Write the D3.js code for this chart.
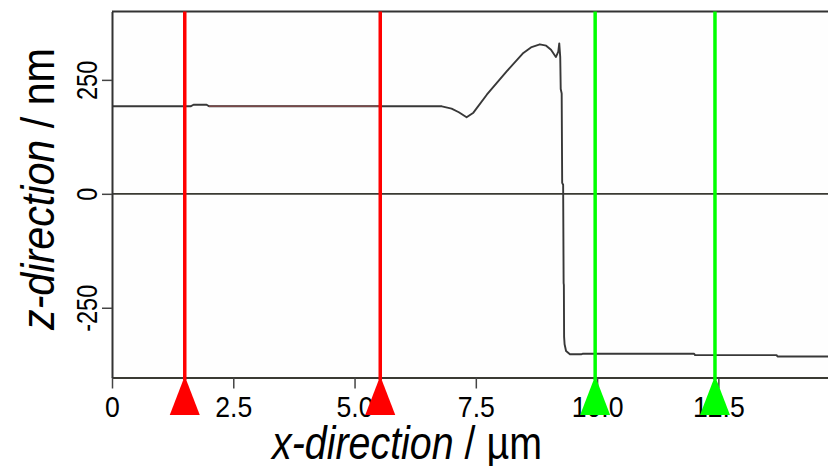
<!DOCTYPE html>
<meta charset="utf-8" />
<title>Height profile, x-direction vs z-direction</title>
<script src="https://d3js.org/d3.v7.min.js"></script>
<style>
  body { margin: 0; background: #fff; }
  svg text { font-family: "Liberation Sans", Arial, sans-serif; fill: #000; }
</style>

<div id="chart"></div>

<script> // profile line with two pairs of cursors

  // Tick values and labels
  var xTicks      = [0, 2.5, 5, 7.5, 10, 12.5];
  var xTickLabels = ["0", "2.5", "5.0", "7.5", "10.0", "12.5"];
  var zTicks      = [-250, 0, 250];
  var zTickLabels = ["-250", "0", "250"];

  var profileX = [0, 1.62, 1.68, 1.95, 2.0, 6.8, 7.0, 7.15, 7.31, 7.45, 7.73,
                  8.14, 8.48, 8.65, 8.82, 8.95, 9.05, 9.15, 9.2, 9.22, 9.24,
                  9.25, 9.27, 9.28, 9.3, 9.31, 9.315, 9.32, 9.33, 9.36, 9.44,
                  9.68, 9.7, 12.0, 12.02, 13.7, 13.72, 14.8];
  var profileZ = [192, 192, 195.5, 195.5, 192, 192, 187, 179, 168, 178, 218,
                  269, 309, 322, 328, 325, 316, 300, 312, 330, 300,
                  230, 220, 24, 20, -196, -200, -314, -330, -345, -352,
                  -352, -351, -351, -354, -354, -357, -357];

  // Cursor positions (um)
  var redCursors   = [1.5, 5.53];
  var greenCursors = [9.96, 12.43];

  var width  = 828;
  var height = 466;
  var xDomain = [0, 14.76];
  var zDomain = [-403, 400];

  var svg = d3.select("#chart")
    .append("svg")
    .attr("width", width)
    .attr("height", height);

  var x = d3.scaleLinear().domain(xDomain).range([112, 828]);
  var z = d3.scaleLinear().domain(zDomain).range([377.5, 11.5]);

  // plot background (almost white)
  svg.append("rect")
    .attr("x", x(xDomain[0])).attr("y", z(zDomain[1]))
    .attr("width", x(xDomain[1]) - x(xDomain[0]))
    .attr("height", z(zDomain[0]) - z(zDomain[1]))
    .attr("fill", "#fefefe");

  // top frame line and zero line
  svg.append("line")
    .attr("x1", x(xDomain[0])).attr("x2", x(xDomain[1]))
    .attr("y1", z(zDomain[1])).attr("y2", z(zDomain[1]))
    .attr("stroke", "#333").attr("stroke-width", 2);
  svg.append("line")
    .attr("x1", x(xDomain[0])).attr("x2", x(xDomain[1]))
    .attr("y1", z(0)).attr("y2", z(0))
    .attr("stroke", "#3a3a33").attr("stroke-width", 1.7);

  // the profile
  var pts = profileX.map(function(d, i) { return [d, profileZ[i]]; });
  var line = d3.line()
    .x(function(d) { return x(d[0]); })
    .y(function(d) { return z(d[1]); });

  svg.append("path")
    .datum(pts)
    .attr("d", line)
    .attr("fill", "none")
    .attr("stroke", "#383838")
    .attr("stroke-width", 1.9)
    .attr("stroke-linejoin", "round");

  // slightly tinted segment between the red cursors
  svg.append("path")
    .datum(pts.filter(function(d) { return d[0] >= 2.0 && d[0] <= redCursors[1]; })
              .concat([[redCursors[1], 192]]))
    .attr("d", line)
    .attr("fill", "none")
    .attr("stroke", "#7a4848")
    .attr("stroke-width", 1.4);

  // axes
  var xAxis = d3.axisBottom(x)
    .tickValues(xTicks)
    .tickFormat(function(d, i) { return xTickLabels[i]; })
    .tickSize(11)
    .tickSizeOuter(0);

  var gx = svg.append("g")
    .attr("transform", "translate(0," + z(zDomain[0]) + ")")
    .call(xAxis);
  gx.select(".domain").attr("stroke", "#3a3a33").attr("stroke-width", 2);
  gx.selectAll(".tick line").attr("stroke", "#444").attr("stroke-width", 1.5);
  gx.selectAll(".tick text")
    .attr("y", 38)
    .attr("dy", 0)
    .attr("transform", "scale(0.95,1.05)")
    .style("font-size", "28px");

  var zAxis = d3.axisLeft(z)
    .tickValues(zTicks)
    .tickFormat(function(d, i) { return zTickLabels[i]; })
    .tickSize(10)
    .tickSizeOuter(0);

  var gz = svg.append("g")
    .attr("transform", "translate(" + x(xDomain[0]) + ",0)")
    .call(zAxis);
  gz.select(".domain").attr("stroke", "#333").attr("stroke-width", 2);
  gz.selectAll(".tick line").attr("stroke", "#444").attr("stroke-width", 1.5);
  gz.selectAll(".tick text")
    .attr("x", 0).attr("y", 0).attr("dy", 0)
    .attr("text-anchor", "middle")
    .attr("transform", "translate(-15,0) rotate(-90) scale(0.84,1.03)")
    .style("font-size", "28px");

  // cursors: vertical lines with triangles at the bottom
  function drawCursors(values, color) {
    values.forEach(function(v) {
      var cx = x(v);
      svg.append("line")
        .attr("x1", cx).attr("x2", cx)
        .attr("y1", z(zDomain[1])).attr("y2", 380)
        .attr("stroke", color).attr("stroke-width", 3.5);
      svg.append("path")
        .attr("d", "M" + cx + ",376 L" + (cx + 15) + ",415 L" + (cx - 15) + ",415 Z")
        .attr("fill", color);
    });
  }
  drawCursors(redCursors, "#ff0000");
  drawCursors(greenCursors, "#00ff00");

  // axis titles
  var xt = svg.append("text")
    .attr("x", 407).attr("y", 459)
    .attr("text-anchor", "middle")
    .attr("textLength", 270)
    .attr("lengthAdjust", "spacingAndGlyphs")
    .style("font-size", "47px");
  xt.append("tspan").style("font-style", "italic").text("x-direction");
  xt.append("tspan").text(" / \u00b5m");

  var zt = svg.append("text")
    .attr("transform", "translate(54,189) rotate(-90)")
    .attr("text-anchor", "middle")
    .attr("textLength", 282)
    .attr("lengthAdjust", "spacingAndGlyphs")
    .style("font-size", "46px");
  zt.append("tspan").style("font-style", "italic").text("z-direction");
  zt.append("tspan").text(" / nm");

</script>
